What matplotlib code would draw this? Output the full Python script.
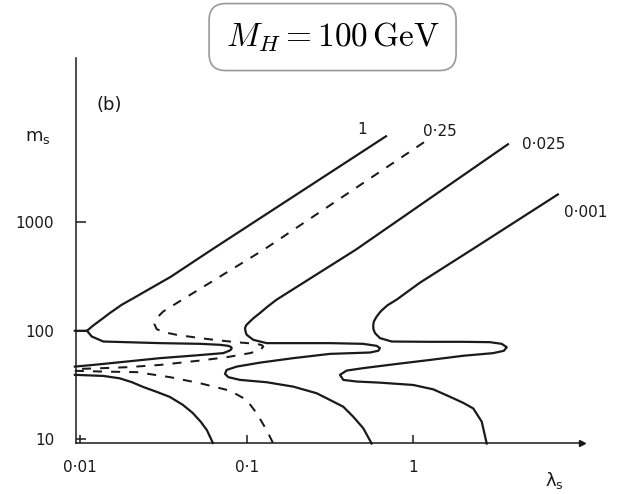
import numpy as np
import matplotlib.pyplot as plt

# contour values (labels at the top of each curve)
contour_labels = ['1', '0·25', '0·025', '0·001']

# lambda_s / m_s points, one list per branch
# contour 1 (solid)
c1_top_lam = [0.686, 0.0618, 0.035, 0.0263, 0.0215, 0.0178, 0.0152, 0.0134, 0.0120, 0.0110, 0.0093]
c1_top_m = [6250, 562, 315, 245, 205, 174, 147, 127, 112, 100, 100]
c1_mid_lam = [0.0110, 0.01174, 0.01378, 0.0302, 0.0524, 0.0691, 0.0776, 0.0803,
              0.0813, 0.0806, 0.0786, 0.0724, 0.0478, 0.0302, 0.01904, 0.0120, 0.0093]
c1_mid_m = [100, 88.6, 79.6, 76.9, 75.8, 74.2, 72.6, 71.0,
            69.2, 67.2, 65.4, 62.2, 59.0, 55.9, 52.0, 48.4, 46.7]
c1_low_lam = [0.0093, 0.01378, 0.0173, 0.0205, 0.0239, 0.029, 0.0346, 0.0414, 0.0475,
              0.0531, 0.0577, 0.0627]
c1_low_m = [39.2, 38.3, 36.4, 33.5, 30.3, 27.2, 24.5, 20.7, 17.4, 14.4, 12.1, 9.2]

# contour 0.25 (dashed)
c2_top_lam = [1.159, 0.127, 0.0380, 0.0316, 0.0288, 0.0279, 0.0288, 0.0316, 0.0380,
              0.0524, 0.0691, 0.0912, 0.1148, 0.1230, 0.1258, 0.1202, 0.1047, 0.0758,
              0.0524, 0.0302, 0.01904, 0.01378, 0.00999, 0.0093]
c2_top_m = [5500, 562, 180, 151, 131, 116, 103.7, 97.3, 91.8,
            85.6, 81.3, 77.9, 75.8, 73.8, 71.6, 65.8, 62.2, 57.0,
            53.1, 48.4, 46.1, 45.2, 44.5, 44.3]
c2_low_lam = [0.0093, 0.00999, 0.01378, 0.0219, 0.0347, 0.0524, 0.0794, 0.100,
              0.1148, 0.1318, 0.1444]
c2_low_m = [42.7, 42.6, 42.0, 41.5, 37.3, 32.8, 28.0, 23.0, 17.3, 12.1, 9.1]

# contour 0.025 (solid)
c3_lam = [3.70, 0.453, 0.1514, 0.134, 0.1202, 0.110, 0.1047, 0.0995, 0.0977, 0.0985,
          0.100, 0.1096, 0.1318, 0.316, 0.499, 0.603, 0.631, 0.6166, 0.550, 0.316,
          0.1905, 0.1202, 0.0871, 0.0758, 0.0741, 0.0776, 0.0912, 0.1318, 0.1905,
          0.263, 0.316, 0.380, 0.436, 0.501, 0.5625]
c3_m = [5270, 562, 194, 168, 146, 131, 122, 113, 105.9, 98,
        91.8, 82.5, 76.9, 76.9, 75.8, 72.6, 69.2, 65.4, 63.0, 61.2,
        55.9, 50.8, 46.7, 43.5, 40.0, 37.3, 35.2, 33.5, 30.5,
        26.5, 23.0, 19.9, 16.1, 12.6, 9.1]

# contour 0.001 (solid)
c4_lam = [7.38, 2.25, 1.096, 0.795, 0.70, 0.64, 0.603, 0.580, 0.575, 0.576, 0.589,
          0.631, 0.742, 1.259, 1.995, 2.886, 3.39, 3.64, 3.50, 3.02, 1.995, 1.259,
          0.795, 0.501, 0.398, 0.363, 0.380, 0.457, 0.631, 1.0, 1.318, 1.660,
          1.995, 2.29, 2.575, 2.76]
c4_m = [1815, 562, 278, 194, 172, 152, 135.5, 122, 113.6, 104, 95.2,
        85.6, 79.6, 79.1, 79.1, 78.5, 75.8, 70.6, 65.4, 62.2, 58.8, 53.8,
        49.4, 45.2, 42.9, 39.2, 35.2, 34.0, 33.2, 31.6, 28.8, 24.6,
        21.6, 19.2, 14.5, 9.1]

label_lam = [0.492, 1.446, 6.08, 10.9]
label_m = [7260, 6970, 5270, 1240]

fig = plt.figure(figsize=(6.24, 4.94), dpi=100)
ax = fig.add_axes([0.1224, 0.1032, 0.8103, 0.7794])
ax.set_xscale('log')
ax.set_yscale('log')
ax.set_xlim(0.0095, 10.3)
ax.set_ylim(9.2, 33000)

ink = '#1a1a1a'
lw = 1.6
for lam, m in [(c1_top_lam, c1_top_m), (c1_mid_lam, c1_mid_m), (c1_low_lam, c1_low_m),
               (c3_lam, c3_m), (c4_lam, c4_m)]:
    ax.plot(lam, m, color=ink, lw=lw, solid_joinstyle='round', clip_on=False)
for lam, m in [(c2_top_lam, c2_top_m), (c2_low_lam, c2_low_m)]:
    ax.plot(lam, m, color=ink, lw=1.45, ls=(0, (4.5, 4.5)), clip_on=False)

for txt, x, y in zip(contour_labels, label_lam, label_m):
    ax.text(x, y, txt, fontsize=11, ha='center', va='center', color=ink, clip_on=False)

for s in ['top', 'right']:
    ax.spines[s].set_visible(False)
for s in ['left', 'bottom']:
    ax.spines[s].set_color(ink)
    ax.spines[s].set_linewidth(1.1)
ax.plot(1, 0, '>', color=ink, ms=4, transform=ax.transAxes, clip_on=False)

ax.set_xticks([0.01, 0.1, 1])
ax.set_xticklabels(['0·01', '0·1', '1'])
ax.set_yticks([10, 100, 1000])
ax.set_yticklabels(['10', '100', '1000'])
ax.minorticks_off()
ax.tick_params(axis='x', direction='in', length=6, width=1.1, pad=12, labelsize=11, colors=ink)
ax.tick_params(axis='y', direction='in', length=7, width=1.1, pad=16, labelsize=11, colors=ink)

ax.text(0.066, 0.878, '(b)', transform=ax.transAxes, fontsize=13, ha='center', va='center', color=ink)
fig.text(0.061, 0.723, r'$\mathregular{m_s}$', fontsize=13, ha='center', va='center', color=ink)
fig.text(0.889, 0.028, r'$\mathregular{\lambda_s}$', fontsize=13, ha='center', va='center', color=ink)

fig.text(0.533, 0.925, r'$M_H = 100\,\mathrm{GeV}$', fontsize=24, ha='center', va='center',
         math_fontfamily='cm',
         bbox=dict(boxstyle='round,pad=0.5,rounding_size=0.5', fc='white', ec='#999999', lw=1.2))

fig.savefig('out.png', dpi=100)
